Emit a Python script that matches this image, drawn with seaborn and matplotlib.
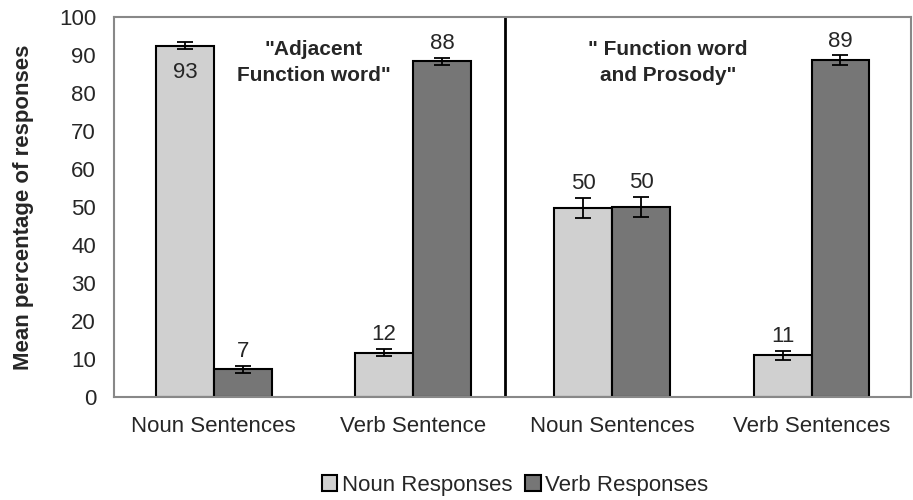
import numpy as np
import pandas as pd
import matplotlib
matplotlib.use('Agg')
import matplotlib.pyplot as plt
import seaborn as sns

# data
categories = ['Noun Sentences', 'Verb Sentence', 'Noun Sentences ', 'Verb Sentences']
noun_resp = [92.5, 11.7, 49.7, 11.0]
verb_resp = [7.3, 88.3, 50.0, 88.7]
noun_err = [0.8, 1.0, 2.7, 1.2]
verb_err = [0.9, 1.0, 2.6, 1.2]
noun_lab = ['93', '12', '50', '11']
verb_lab = ['7', '88', '50', '89']
series = ['Noun Responses', 'Verb Responses']

df = pd.DataFrame({
    'Sentence': categories * 2,
    'Response': [series[0]] * 4 + [series[1]] * 4,
    'Value': noun_resp + verb_resp,
})

sns.set_style('white')
plt.rcParams['font.family'] = ['Liberation Sans', 'DejaVu Sans']

fig = plt.figure(figsize=(9.13, 5), dpi=100)
ax = fig.add_axes([0.125, 0.206, 0.873, 0.76])

sns.barplot(data=df, x='Sentence', y='Value', hue='Response', order=categories,
            hue_order=series, palette=['#d0d0d0', '#767676'], width=0.58,
            edgecolor='black', linewidth=1.5, errorbar=None, ax=ax)

# error bars and value labels
bars = ax.patches[:8]
errs = noun_err + verb_err
labs = noun_lab + verb_lab
for b, e, t in zip(bars, errs, labs):
    cx = b.get_x() + b.get_width() / 2
    h = b.get_height()
    ax.errorbar(cx, h, yerr=e, color='black', capsize=6, capthick=1.3, elinewidth=1.3)
    if h > 90:
        ax.text(cx, h - 4.3, t, ha='center', va='top', fontsize=16)
    else:
        ax.text(cx, h + e + 1.0, t, ha='center', va='bottom', fontsize=16)

ax.axvline(1.46, color='black', linewidth=2)

ax.text(0.5, 94, '"Adjacent\nFunction word"', ha='center', va='top',
        fontsize=15, fontweight='bold', linespacing=1.45)
ax.text(2.28, 94, '" Function word\nand Prosody"', ha='center', va='top',
        fontsize=15, fontweight='bold', linespacing=1.45)

ax.set_xlim(-0.5, 3.5)
ax.set_ylim(0, 100)
ax.set_yticks(range(0, 101, 10))
ax.set_xticks([-0.5, 0.5, 1.5, 2.5, 3.5], minor=False)
ax.set_xticklabels([])
ax.set_xticks(range(4), minor=True)
ax.set_xticklabels(['Noun Sentences', 'Verb Sentence', 'Noun Sentences', 'Verb Sentences'],
                   minor=True, fontsize=16)
ax.tick_params(axis='x', which='minor', length=0, pad=14)
ax.tick_params(axis='x', which='major', direction='out', length=6, color='#888888')
ax.tick_params(axis='y', direction='out', length=5, color='#888888', labelsize=16, pad=8)
ax.set_xlabel('')
ax.set_ylabel('Mean percentage of responses', fontsize=16, fontweight='bold', labelpad=18)
for s in ax.spines.values():
    s.set_color('#888888')
    s.set_linewidth(1.5)

ax.legend(loc='center', bbox_to_anchor=(0.503, -0.232), ncol=2, frameon=False,
          fontsize=16, handlelength=0.7, handleheight=0.7, handletextpad=0.2,
          columnspacing=0.6)

fig.savefig('out.png', dpi=100)
